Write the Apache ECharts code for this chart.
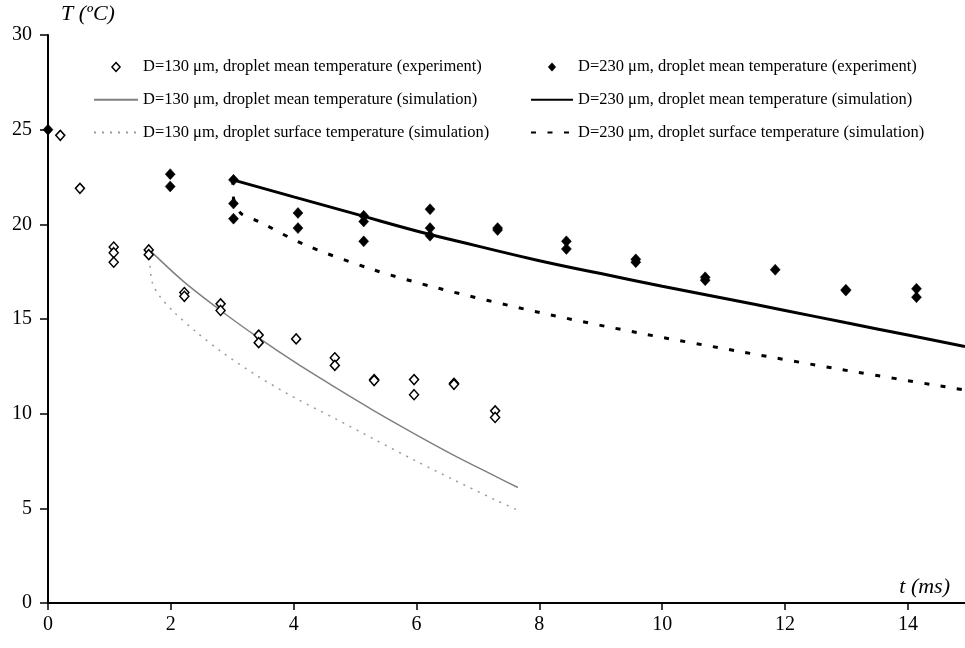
<!DOCTYPE html>
<html>
<head>
<meta charset="utf-8">
<script src="https://cdn.jsdelivr.net/npm/echarts@6/dist/echarts.min.js"></script>
<style>
html,body{margin:0;padding:0;background:#fff;}
#chart{width:965px;height:648px;}
</style>
</head>
<body>
<div id="chart"></div>
<script>
// ---- data ----
var xTicks = [0, 2, 4, 6, 8, 10, 12, 14];
var yTicks = [0, 5, 10, 15, 20, 25, 30];

var names130 = [
  'D=130 \u03bcm, droplet mean temperature (experiment)',
  'D=130 \u03bcm, droplet mean temperature (simulation)',
  'D=130 \u03bcm, droplet surface temperature (simulation)'
];
var names230 = [
  'D=230 \u03bcm, droplet mean temperature (experiment)',
  'D=230 \u03bcm, droplet mean temperature (simulation)',
  'D=230 \u03bcm, droplet surface temperature (simulation)'
];

// D=130 µm experiment (open diamonds): [t (ms), T (°C)]
var exp130 = [[0.2,24.7],[0.52,21.9],[1.07,18.8],[1.07,18.5],[1.07,18.0],[1.64,18.65],[1.64,18.4],
  [2.22,16.4],[2.22,16.2],[2.81,15.8],[2.81,15.45],[3.43,14.15],[3.43,13.75],[4.04,13.95],
  [4.67,12.95],[4.67,12.55],[5.31,11.8],[5.31,11.75],[5.96,11.8],[5.96,11.0],[6.61,11.6],[6.61,11.55],
  [7.28,10.15],[7.28,9.8]];

// D=230 µm experiment (filled diamonds)
var exp230 = [[0,25.0],[1.99,22.65],[1.99,22.0],[3.02,22.35],[3.02,21.1],[3.02,20.3],[4.07,20.6],[4.07,19.8],
  [5.14,20.45],[5.14,20.15],[5.14,19.1],[6.22,20.8],[6.22,19.8],[6.22,19.4],[7.32,19.8],[7.32,19.7],
  [8.44,19.1],[8.44,18.7],[9.57,18.15],[9.57,18.0],[10.7,17.2],[10.7,17.05],[11.84,17.6],
  [12.99,16.55],[12.99,16.5],[14.14,16.6],[14.14,16.15]];

// D=130 µm simulation, mean temperature
var simMean130 = [[1.65,18.65],[2.2,17.0],[2.81,15.45],[3.43,14.0],[4.05,12.65],[4.67,11.4],[5.31,10.15],
  [5.96,8.95],[6.61,7.8],[7.28,6.7],[7.65,6.1]];
// D=130 µm simulation, surface temperature
var simSurf130 = [[1.65,18.65],[1.66,17.8],[1.7,16.9],[1.82,16.2],[2.04,15.4],[2.42,14.3],[2.81,13.3],
  [3.43,11.95],[4.05,10.78],[4.67,9.75],[5.31,8.65],[5.96,7.55],[6.61,6.5],[7.28,5.45],[7.65,4.9]];
// D=230 µm simulation, mean temperature
var simMean230 = [[3.01,22.35],[4.0,21.45],[5.0,20.55],[6.0,19.65],[7.0,18.85],[8.0,18.08],[9.0,17.4],
  [10.0,16.73],[11.0,16.1],[12.0,15.45],[13.0,14.8],[14.0,14.15],[14.93,13.54]];
// D=230 µm simulation, surface temperature
var simSurf230 = [[3.01,22.35],[3.02,21.4],[3.15,20.55],[3.43,20.15],[4.16,18.95],[5.27,17.63],[6.36,16.62],
  [8.01,15.34],[9.64,14.25],[11.27,13.28],[12.9,12.34],[14.93,11.25]];

var xMin = 0, xMax = 14.93, yMin = 0, yMax = 30;

var FONT = '"Liberation Serif", "Times New Roman", serif';
var DIAMOND_ICON = 'path://M0,-5L4.5,0L0,5L-4.5,0Z';

var chart = echarts.init(document.getElementById('chart'), null, {renderer: 'canvas'});

function legendItems(names, filled) {
  return [
    {name: names[0], icon: DIAMOND_ICON,
      itemStyle: filled ? {color: '#000', borderColor: '#000', borderWidth: 0, opacity: 1}
                        : {color: '#fff', borderColor: '#000', borderWidth: 1.5, opacity: 1}},
    {name: names[1], itemStyle: {opacity: 0}},
    {name: names[2], itemStyle: {opacity: 0}}
  ];
}

var legendText = {fontFamily: FONT, fontSize: 16.5, color: '#000', lineHeight: 16};

var option = {
  animation: false,
  backgroundColor: '#fff',
  textStyle: {fontFamily: FONT, color: '#000'},
  grid: {left: 48, right: 0, top: 35, bottom: 45, containLabel: false},
  legend: [
    {
      data: legendItems(names130, false),
      orient: 'vertical',
      left: 93, top: 58.5,
      padding: 0,
      itemWidth: 44, itemHeight: 9, itemGap: 15.8,
      symbolKeepAspect: true,
      textStyle: legendText,
      selectedMode: false
    },
    {
      data: legendItems(names230, true),
      orient: 'vertical',
      left: 530, top: 58.5,
      padding: 0,
      itemWidth: 42, itemHeight: 9, itemGap: 15.8,
      symbolKeepAspect: true,
      textStyle: legendText,
      selectedMode: false
    }
  ],
  xAxis: {
    type: 'value',
    min: xMin, max: xMax, interval: 2,
    name: 't (ms)',
    nameLocation: 'end',
    nameGap: -15,
    nameTextStyle: {fontFamily: FONT, fontSize: 22, fontStyle: 'italic', color: '#000',
      align: 'right', verticalAlign: 'bottom', padding: [0, 0, 5, 0]},
    axisLine: {show: true, onZero: false, lineStyle: {color: '#000', width: 2}},
    axisTick: {show: true, length: 7, lineStyle: {color: '#000', width: 1.5}},
    axisLabel: {
      fontFamily: FONT, fontSize: 20, color: '#000', margin: 12,
      showMaxLabel: false,
      formatter: function (v) { return xTicks.indexOf(v) >= 0 ? String(v) : ''; }
    },
    splitLine: {show: false}
  },
  yAxis: {
    type: 'value',
    min: yMin, max: yMax, interval: 5,
    name: 'T (\u00baC)',
    nameLocation: 'end',
    nameGap: 10,
    nameTextStyle: {fontFamily: FONT, fontSize: 22, fontStyle: 'italic', color: '#000',
      align: 'left', padding: [0, 0, 0, 13]},
    axisLine: {show: true, onZero: false, lineStyle: {color: '#000', width: 2}},
    axisTick: {show: true, length: 8, lineStyle: {color: '#000', width: 1.5}},
    axisLabel: {
      fontFamily: FONT, fontSize: 20, color: '#000', margin: 16,
      formatter: function (v) { return yTicks.indexOf(v) >= 0 ? String(v) : ''; }
    },
    splitLine: {show: false}
  },
  series: [
    {
      name: names130[1], type: 'line', data: simMean130, symbol: 'none', smooth: 0.3,
      lineStyle: {color: '#808080', width: 1.5, type: 'solid'}, itemStyle: {color: '#808080'}, z: 2
    },
    {
      name: names130[2], type: 'line', data: simSurf130, symbol: 'none', smooth: 0.3,
      lineStyle: {color: '#9a9a9a', width: 1.5, type: [2, 6]}, itemStyle: {color: '#9a9a9a'}, z: 2
    },
    {
      name: names230[1], type: 'line', data: simMean230, symbol: 'none', smooth: true,
      lineStyle: {color: '#000', width: 3, type: 'solid'}, itemStyle: {color: '#000'}, z: 2
    },
    {
      name: names230[2], type: 'line', data: simSurf230, symbol: 'none', smooth: 0.3,
      lineStyle: {color: '#000', width: 3, type: [5, 11.5], cap: 'butt'}, itemStyle: {color: '#000'}, z: 2
    },
    {
      name: names130[0], type: 'scatter', data: exp130, symbol: 'diamond', symbolSize: [9, 10],
      itemStyle: {color: '#fff', borderColor: '#000', borderWidth: 1.5, opacity: 1}, z: 3
    },
    {
      name: names230[0], type: 'scatter', data: exp230, symbol: 'diamond', symbolSize: [10, 11],
      itemStyle: {color: '#000', borderColor: '#000', borderWidth: 0.5, opacity: 1}, z: 3
    }
  ]
};
chart.setOption(option);
</script>
</body>
</html>
